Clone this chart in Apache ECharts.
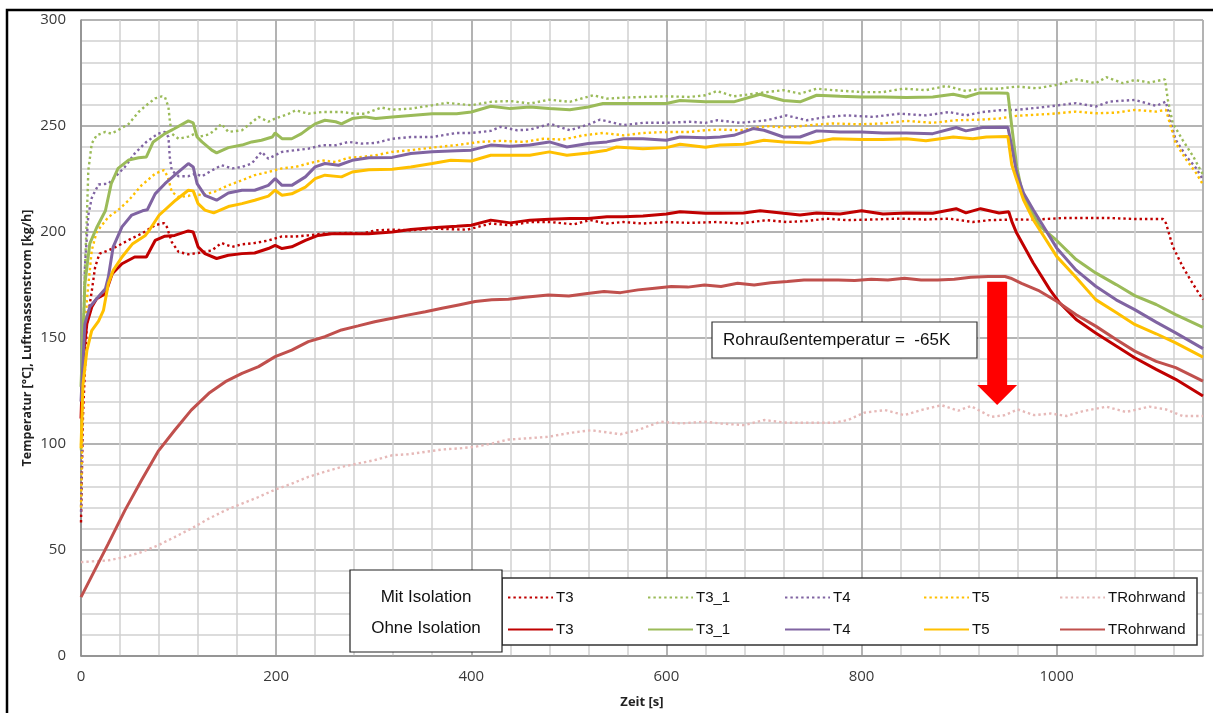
<!DOCTYPE html>
<html>
<head>
<meta charset="utf-8">
<script src="https://cdn.jsdelivr.net/npm/echarts@6/dist/echarts.min.js"></script>
<style>html,body{margin:0;padding:0;background:#fff}#c{width:1213px;height:713px}</style>
</head>
<body>
<div id="c"></div>
<script>
// ---- data (time [s], value) ----
const xTicks = [0, 200, 400, 600, 800, 1000];
const yTicks = [0, 50, 100, 150, 200, 250, 300];
const columns = ['T3', 'T3_1', 'T4', 'T5', 'TRohrwand'];
const groupLabels = ['Mit Isolation', 'Ohne Isolation'];
const annotationText = 'Rohraußentemperatur =  -65K';

const T3_ohne = [[0,112],[2,140],[6,156.7],[11,164.6],[16,168.5],[25,170.9],[32,180.3],[42,185],[55,188.2],[67,188.2],[76,196],[86,198],[96,198.4],[110,200.5],[115,200],[120,193],[127,189.8],[139,187.5],[151,189],[165,189.8],[178,190.1],[192,192.2],[199,193.7],[206,192.2],[216,193],[230,196],[243,198.4],[257,199.2],[278,199.2],[295,199.2],[319,200],[338,201.2],[360,202],[385,202.7],[400,203.2],[420,205.6],[440,204.3],[460,205.6],[480,206],[501,206.4],[520,206.4],[539,207.2],[556,207.2],[576,207.5],[600,208.5],[614,209.6],[640,208.8],[655,208.8],[679,209],[696,210],[720,208.8],[737,208],[754,209],[778,208.5],[800,210],[822,208.5],[846,209],[873,208.8],[897,211],[907,209],[922,211],[941,209],[951,209.5],[954,205],[959,199.5],[976,185.4],[993,172.8],[1003,166.6],[1020,158.7],[1040,152.4],[1061,146.2],[1080,140.7],[1102,135.2],[1122,130.5],[1150,122.6]];
const T3_1_ohne = [[0,127],[4,175.6],[9,194.5],[16,202],[25,210],[31,222.8],[38,230],[49,234],[59,235],[67,235.4],[74,242.5],[86,246.4],[96,248.8],[110,252.4],[115,251.5],[119,244.8],[124,242.5],[134,238.6],[139,237.3],[151,239.8],[165,241],[175,242.5],[185,243.3],[196,244.8],[199,246.7],[206,244],[216,244],[226,246.4],[233,248.8],[240,251],[250,252.7],[261,252],[267,251],[278,253.5],[291,254.3],[302,253.5],[319,254.3],[338,255],[360,255.8],[385,255.8],[400,256.6],[420,259.3],[440,258.2],[460,259],[480,258.2],[501,257.7],[520,259],[535,260.6],[556,260.6],[576,260.6],[600,260.6],[614,262],[640,261.4],[669,261.4],[696,265],[720,262],[737,261.4],[754,264.5],[778,264],[800,263.7],[822,263.7],[846,263.4],[873,263.7],[894,265],[907,263.7],[921,265.6],[941,265.6],[950,265.5],[954,249.8],[959,231],[964,220],[973,210.5],[983,202.7],[1000,196],[1020,187],[1040,180.7],[1061,175.2],[1080,170],[1102,165.8],[1122,161],[1150,155]];
const T4_ohne = [[0,120],[4,156.7],[9,164.6],[16,168.5],[25,173.2],[28,178.7],[33,193],[42,202.4],[52,208],[63,210],[68,210.5],[76,218],[86,222.8],[96,226.8],[110,232.3],[115,230.7],[119,222.8],[127,217.3],[139,215],[151,218.4],[165,219.7],[178,219.7],[192,222],[199,225.2],[206,222],[216,222],[230,226],[240,230.7],[250,232.3],[264,231.5],[278,233.8],[295,235],[319,235.2],[338,237],[360,237.8],[385,238.3],[400,238.6],[420,241],[440,240.5],[460,241],[480,242.5],[498,240.1],[520,241.7],[539,242.5],[556,244],[576,244],[600,243.3],[614,244.8],[640,244.5],[655,244.8],[669,245.6],[689,248.8],[700,248],[720,244.8],[737,244.8],[754,247.7],[778,247.2],[800,247.2],[822,246.7],[846,246.7],[873,246.4],[897,249.3],[907,247.7],[924,249.3],[950,249.4],[954,240.3],[959,227.8],[966,218.4],[976,210.5],[1000,192.5],[1020,182],[1040,174.4],[1061,168],[1080,163.4],[1102,157.5],[1122,152.4],[1150,145]];
const T5_ohne = [[0,98],[2,128],[6,144],[11,153.5],[18,158],[23,163],[28,175.6],[33,181.9],[42,188.2],[53,194.5],[66,198.4],[70,200.8],[80,207.9],[97,215],[110,219.7],[115,219.4],[120,213.4],[127,210.3],[136,209],[151,212],[165,213.4],[178,215],[192,216.9],[199,219.7],[206,217.3],[216,218],[230,221.2],[240,225.2],[250,226.8],[267,226],[278,228.3],[295,229.4],[319,229.6],[338,230.7],[360,232.3],[379,233.8],[400,233.5],[420,236.2],[440,236.2],[460,236.2],[480,237.8],[498,236.2],[520,237.3],[539,238.6],[549,240.1],[576,239.3],[600,239.8],[614,241.4],[640,240],[655,241],[679,241.4],[700,243.3],[720,242.5],[747,242],[771,244],[800,243.6],[822,243.6],[846,244],[866,243],[894,244.8],[914,244],[928,244.8],[950,245],[954,231.7],[959,224.6],[966,215.2],[976,205.8],[1000,188.5],[1020,178.5],[1040,168.1],[1061,162],[1080,156.4],[1102,152],[1122,147.7],[1150,141]];
const TRohr_ohne = [[0,27.8],[14,40.4],[28,53],[45,68.7],[62,82.9],[79,96.5],[96,106.5],[113,116],[131,123.9],[148,129.4],[165,133.3],[182,136.5],[199,141.2],[216,144.3],[233,148.3],[250,150.6],[267,153.8],[284,155.7],[301,157.7],[319,159.3],[336,160.9],[353,162.4],[370,164],[387,165.6],[404,167.2],[421,168],[438,168.3],[455,169.2],[479,170.3],[500,169.8],[519,171],[536,171.9],[553,171.4],[571,172.7],[588,173.5],[605,174.3],[622,174],[639,175],[656,174.3],[673,175.8],[690,175],[707,176.1],[724,176.6],[741,177.4],[759,177.4],[776,177.4],[793,177.1],[810,177.7],[827,177.4],[844,178.2],[861,177.4],[878,177.4],[895,177.7],[912,178.7],[930,179],[947,179],[953,178.2],[964,175.8],[981,172.5],[1000,167.3],[1020,161],[1040,155.6],[1061,149.3],[1080,143.8],[1102,139],[1122,136],[1150,129.7]];

const T3_mit = [[0,63],[2,112.6],[6,156.7],[11,172],[14.5,183.5],[19,189.8],[28,191.3],[38,193.5],[50,196.5],[62,199.2],[76,203.2],[85,204.2],[88,202.4],[93,195.3],[100,190.6],[110,189.5],[120,190.1],[134,191.3],[144,194.8],[155,193],[165,194.2],[178,194.8],[192,196],[206,197.9],[220,197.9],[233,198.4],[247,199.2],[261,199.2],[274,199.6],[288,199.2],[302,200.8],[319,201.1],[338,200.8],[360,201.6],[396,201.1],[420,204],[440,203.2],[460,204.7],[481,204.7],[505,203.6],[522,205.6],[539,204],[556,204.7],[576,204],[600,204.7],[624,204.3],[652,204.7],[676,204],[703,205.6],[723,204.7],[744,205.2],[764,206.3],[785,205.6],[812,205.9],[839,206.3],[866,205.9],[890,206.3],[914,204.7],[931,205.6],[958,205.9],[976,205.8],[1007,206.6],[1030,206.6],[1054,206.6],[1082,206.1],[1109,206.1],[1112,204.2],[1119,193.2],[1129,183.8],[1139,176],[1150,168.1]];
const T3_1_mit = [[0,97],[1.5,128],[3.5,175.6],[6,207],[7.5,229],[11,241.7],[16,245.6],[25,247.2],[31,246.4],[38,248],[49,251],[59,256.6],[67,259.8],[76,263],[83,264],[86,263.7],[89.6,259],[91,252.7],[93,246.4],[100,244],[110,245],[117,246.4],[120,244.8],[131,246],[137,248],[144,251],[151,247.2],[165,248],[182,254.3],[192,252],[199,253.5],[213,255.8],[220,257.4],[233,255.8],[247,256.6],[267,256.6],[281,255.8],[291,255.8],[308,258.7],[319,257.7],[338,258.2],[360,259.8],[375,260.9],[400,259.8],[420,261.4],[440,261.8],[460,260.6],[480,262.4],[501,261.4],[525,264.5],[539,262.9],[556,263.4],[576,263.7],[600,264],[624,263.7],[640,264.5],[652,266.5],[669,264],[696,265.6],[720,266.9],[737,265.3],[754,267.6],[771,266.9],[800,266],[822,266],[843,267.6],[866,266.9],[887,268.9],[907,266.5],[924,267.6],[941,267.6],[959,268.6],[980,267.8],[1000,269.4],[1020,272],[1040,270.2],[1051,273],[1068,270.2],[1080,271.7],[1095,270.5],[1111,272],[1114,262.3],[1119,251.3],[1129,243.5],[1140,235.6],[1150,227]];
const T4_mit = [[0,68],[2,128],[4,183.5],[7.5,208],[11,216],[13,218],[18,222.4],[28,222.8],[35,226],[45,230.7],[55,237],[67,242.5],[79,246.4],[86,247.2],[89.6,244.8],[91,235.4],[93,229],[100,226.3],[110,226.3],[117,227.5],[124,226.3],[134,229],[144,231.5],[155,230],[165,230.7],[175,232.3],[185,237.8],[192,234.6],[206,237.8],[220,238.6],[233,239.3],[247,240.9],[261,240.9],[274,242.5],[288,241.7],[302,242],[319,244],[338,244.8],[360,244.8],[385,246.7],[400,246.7],[420,247.7],[430,249.6],[447,248],[460,248.3],[481,251],[501,248],[522,251],[532,253],[556,250.4],[576,251.5],[600,251.5],[624,252],[640,251.5],[652,252.7],[676,251.5],[703,252.7],[723,255],[744,252.7],[764,254.3],[785,255],[812,254.3],[839,255.8],[866,255],[890,256.6],[907,255],[924,256.6],[941,257.4],[959,257.6],[986,258.9],[1020,260.8],[1040,259.2],[1054,261.5],[1080,262.3],[1102,259.5],[1112,261.5],[1116,252.9],[1122,243.5],[1133,235.6],[1143,230.1],[1150,224.6]];
const T5_mit = [[0,70],[2,128],[6,167.7],[11,191.3],[16,200],[21,203],[28,207],[38,210.3],[49,215],[62,222],[76,227.5],[85,229.2],[89,226],[93,219],[100,216.5],[110,217],[117,218],[124,217.3],[137,219],[151,222],[165,224.4],[178,226.8],[192,228.3],[206,230],[220,230.7],[233,232.3],[247,233.8],[261,233],[274,235],[288,235.4],[302,236.2],[319,237.8],[338,238.6],[360,239.8],[385,241],[409,242.5],[430,243],[454,242.5],[474,244],[494,243.6],[515,245.6],[535,246.7],[556,245.6],[576,246.7],[600,247.2],[624,247.2],[640,248],[655,248.3],[676,248],[703,249.9],[723,249.3],[747,250.4],[771,251.2],[798,250.8],[822,251.2],[846,252.4],[873,251.5],[897,252.7],[921,253],[941,253.5],[959,254.8],[993,255.7],[1020,256.8],[1040,256],[1061,256.3],[1080,257.6],[1102,256.8],[1112,257.6],[1116,251.3],[1122,241.9],[1133,234],[1143,227.8],[1150,222.3]];
const TRohr_mit = [[0,44.3],[28,45.1],[45,46.7],[62,49],[79,52.2],[96,56.1],[113,60.1],[131,64.8],[148,68.7],[165,71.9],[182,75],[199,78.5],[216,81.3],[233,84.5],[250,86.9],[267,89.2],[284,90.8],[301,92.4],[319,94.7],[336,95.2],[353,96.3],[370,97.4],[387,97.9],[404,98.7],[421,100.2],[438,102.1],[455,102.6],[479,103.4],[502,105.3],[523,106.5],[553,104.6],[570,106.5],[594,110.5],[615,109.7],[639,110.5],[656,109.7],[680,108.9],[700,111.3],[724,110],[741,110],[772,110],[786,111.3],[803,114.8],[824,116],[844,113.6],[861,116],[882,118.3],[899,115.7],[912,117.9],[933,112.8],[947,113.6],[960,116.3],[977,113.6],[994,114.4],[1010,113.2],[1027,115.5],[1051,117.6],[1071,115.1],[1095,117.6],[1112,116.3],[1129,113.2],[1150,113.2]];

// arrow annotation endpoints in data coordinates [s, value]
const arrowTop = [939, 176.5];
const arrowHeadBase = [939, 127.8];
const arrowTip = [939, 118.4];

// ---- series ----
const mitData = [T3_mit, T3_1_mit, T4_mit, T5_mit, TRohr_mit];
const ohneData = [T3_ohne, T3_1_ohne, T4_ohne, T5_ohne, TRohr_ohne];
const mitColors = ['#C00000', '#9BBB59', '#8064A2', '#FFC000', '#E6B9B8'];
const ohneColors = ['#C00000', '#9BBB59', '#8064A2', '#FFC000', '#C0504D'];

const series = [];
columns.forEach((c, i) => {
  series.push({
    name: c + '|Mit', type: 'line', xAxisIndex: 1, yAxisIndex: 1,
    data: mitData[i], symbol: 'none', smooth: false, z: 3,
    lineStyle: { color: mitColors[i], width: 2.4, type: [2.4, 3], cap: 'butt' },
    itemStyle: { color: mitColors[i] }
  });
});
columns.forEach((c, i) => {
  series.push({
    name: c + '|Ohne', type: 'line', xAxisIndex: 1, yAxisIndex: 1,
    data: ohneData[i], symbol: 'none', smooth: false, z: 4,
    lineStyle: { color: ohneColors[i], width: 3, type: 'solid' },
    itemStyle: { color: ohneColors[i] }
  });
});

const legendX = [507, 647, 784, 923, 1059];
const legends = columns.map((c, i) => ({
  orient: 'vertical', left: legendX[i], top: 590, padding: 0,
  itemGap: 17, itemWidth: 45, itemHeight: 14, selectedMode: false, z: 20,
  itemStyle: { opacity: 0 },
  data: [c + '|Mit', c + '|Ohne'],
  formatter: n => n.split('|')[0],
  textStyle: { fontFamily: 'Liberation Sans', fontSize: 15, color: '#111', padding: [0, 0, 0, -2] }
}));

const labelFont = { fontFamily: 'Open Sans', fontSize: 15, color: '#3a3a3a' };

const chart = echarts.init(document.getElementById('c'), null, { renderer: 'canvas' });
chart.setOption({
  animation: false,
  backgroundColor: '#fff',
  grid: { left: 81, top: 20, right: 10, bottom: 57, containLabel: false, outerBoundsMode: 'none' },
  xAxis: [
    { type: 'value', min: 0, max: 1150, interval: 40, position: 'top',
      axisLine: { show: false }, axisTick: { show: false }, axisLabel: { show: false },
      splitLine: { show: true, lineStyle: { color: '#D0D0D0', width: 1.5 } } },
    { type: 'value', min: 0, max: 1150, interval: 200, position: 'bottom',
      axisLine: { show: true, lineStyle: { color: '#8C8C8C', width: 1.5 } },
      axisTick: { show: false },
      axisLabel: Object.assign({ margin: 13, showMaxLabel: false,
        formatter: v => xTicks.includes(v) ? String(v) : '' }, labelFont),
      splitLine: { show: true, lineStyle: { color: '#A6A6A6', width: 1.5 } },
      name: 'Zeit [s]', nameLocation: 'middle', nameGap: 40, nameMoveOverlap: false,
      nameTextStyle: { fontFamily: 'Open Sans', fontWeight: 'bold', fontSize: 13, color: '#222' } }
  ],
  yAxis: [
    { type: 'value', min: 0, max: 300, interval: 10, position: 'right',
      axisLine: { show: false }, axisTick: { show: false }, axisLabel: { show: false },
      splitLine: { show: true, lineStyle: { color: '#D0D0D0', width: 1.5 } } },
    { type: 'value', min: 0, max: 300, interval: 50, position: 'left',
      axisLine: { show: true, lineStyle: { color: '#8C8C8C', width: 1.5 } },
      axisTick: { show: false },
      axisLabel: Object.assign({ margin: 15,
        formatter: v => yTicks.includes(v) ? String(v) : '' }, labelFont),
      splitLine: { show: true, lineStyle: { color: '#A6A6A6', width: 1.5 } },
      name: 'Temperatur [°C], Luftmassenstrom [kg/h]', nameLocation: 'middle', nameGap: 47, nameMoveOverlap: false,
      nameTextStyle: { fontFamily: 'Open Sans', fontWeight: 'bold', fontSize: 12.5, color: '#222' } }
  ],
  legend: legends,
  series: series
});

const P = d => chart.convertToPixel({ gridIndex: 0 }, d);
const pTop = P(arrowTop), pBase = P(arrowHeadBase), pTip = P(arrowTip);
const cx = pTop[0];
chart.setOption({
  graphic: [
    { type: 'rect', z: 30, silent: true,
      shape: { x: 7, y: 10, width: 1230, height: 730 },
      style: { fill: 'none', stroke: '#000', lineWidth: 2.5 } },
    { type: 'rect', z: 15, silent: true,
      shape: { x: 502, y: 578, width: 695, height: 67 },
      style: { fill: '#fff', stroke: '#333', lineWidth: 1.5 } },
    { type: 'rect', z: 15, silent: true,
      shape: { x: 350, y: 570, width: 152, height: 82 },
      style: { fill: '#fff', stroke: '#222', lineWidth: 1.2 } },
    { type: 'text', z: 16, silent: true, x: 426, y: 597,
      style: { text: groupLabels[0], fill: '#111', font: '17px "Liberation Sans"', align: 'center', verticalAlign: 'middle' } },
    { type: 'text', z: 16, silent: true, x: 426, y: 628,
      style: { text: groupLabels[1], fill: '#111', font: '17px "Liberation Sans"', align: 'center', verticalAlign: 'middle' } },
    { type: 'rect', z: 15, silent: true,
      shape: { x: 712, y: 322, width: 265, height: 36 },
      style: { fill: '#fff', stroke: '#333', lineWidth: 1.2 } },
    { type: 'text', z: 16, silent: true, x: 723, y: 340,
      style: { text: annotationText, fill: '#111', font: '17px "Liberation Sans"', align: 'left', verticalAlign: 'middle' } },
    { type: 'polygon', z: 16, silent: true,
      shape: { points: [
        [cx - 10, pTop[1]], [cx + 10, pTop[1]], [cx + 10, pBase[1]], [cx + 20, pBase[1]],
        [cx, pTip[1]], [cx - 20, pBase[1]], [cx - 10, pBase[1]]
      ] },
      style: { fill: '#FF0000', stroke: null } }
  ]
});
</script>
</body>
</html>
